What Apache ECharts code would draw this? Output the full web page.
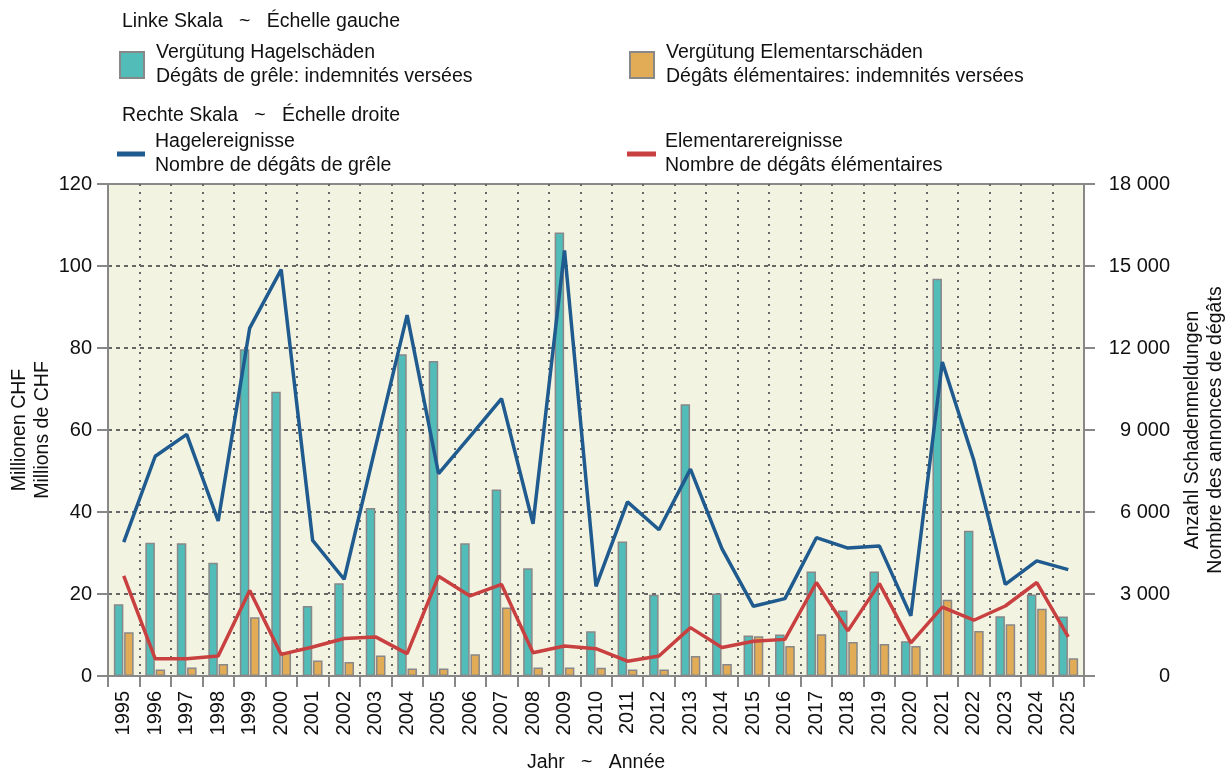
<!DOCTYPE html>
<html>
<head>
<meta charset="utf-8">
<script src="https://cdn.jsdelivr.net/npm/echarts@6/dist/echarts.min.js"></script>
<style>
  html, body { margin: 0; padding: 0; background: #fff; }
  #main { width: 1228px; height: 771px; }
</style>
</head>
<body>
<div id="main"></div>
<script>
// data
var years = ['1995', '1996', '1997', '1998', '1999', '2000', '2001', '2002', '2003', '2004',
    '2005', '2006', '2007', '2008', '2009', '2010', '2011', '2012', '2013', '2014',
    '2015', '2016', '2017', '2018', '2019', '2020', '2021', '2022', '2023', '2024', '2025'];

// Millionen CHF (left scale)
var hailPaid = [17.5, 32.5, 32.4, 27.6, 79.7, 69.3, 17.1, 22.6, 41.0, 78.5,
    76.8, 32.4, 45.5, 26.3, 108.2, 10.9, 32.8, 19.8, 66.3, 20.1,
    9.9, 10.1, 25.5, 16.0, 25.5, 8.5, 96.9, 35.4, 14.6, 19.9, 14.5];
var elemPaid = [10.7, 1.6, 2.1, 2.9, 14.3, 5.8, 3.8, 3.4, 5.0, 1.8,
    1.8, 5.3, 16.7, 2.1, 2.1, 2.0, 1.6, 1.6, 4.9, 2.9,
    9.7, 7.3, 10.2, 8.3, 7.8, 7.3, 18.6, 11.0, 12.6, 16.4, 4.3];

// Anzahl Schadenmeldungen (right scale)
var hailEvents = [4900, 8040, 8840, 5670, 12730, 14870, 4960, 3540, 8400, 13200,
    7400, 8770, 10150, 5570, 15570, 3280, 6370, 5350, 7570, 4660,
    2550, 2830, 5060, 4680, 4760, 2200, 11490, 7890, 3350, 4210, 3890];
var elemEvents = [3660, 630, 630, 730, 3130, 790, 1060, 1370, 1430, 820,
    3650, 2930, 3350, 850, 1100, 1000, 540, 730, 1770, 1040,
    1270, 1340, 3420, 1650, 3380, 1210, 2520, 2040, 2560, 3420, 1430];

var leftTicks = [0, 20, 40, 60, 80, 100, 120];
var rightTicks = [0, 3000, 6000, 9000, 12000, 15000, 18000];

var names = {
    hail: 'Vergütung Hagelschäden\nDégâts de grêle: indemnités versées',
    elem: 'Vergütung Elementarschäden\nDégâts élémentaires: indemnités versées',
    hailLine: 'Hagelereignisse\nNombre de dégâts de grêle',
    elemLine: 'Elementarereignisse\nNombre de dégâts élémentaires'
};

var FONT = '"Liberation Sans", Arial, sans-serif';
var TXT = '#111';
var AXIS = '#888';
var FS = 19.5;   // text size
var NS = 20;     // tick number size

var chartDom = document.getElementById('main');
var myChart = echarts.init(chartDom);
var option;

function thousands(v) {
    return String(v).replace(/\B(?=(\d{3})+(?!\d))/g, ' ');
}

// one legend per entry so each can sit where the reference puts it
function legendAt(name, left, top, w, h, gap, border) {
    return {
        left: left,
        top: top,
        padding: 0,
        orient: 'vertical',
        data: [name],
        icon: 'rect',
        itemWidth: w,
        itemHeight: h,
        itemStyle: border ? { borderColor: '#888', borderWidth: 2 } : { borderWidth: 0 },
        selectedMode: false,
        textStyle: {
            fontFamily: FONT,
            fontSize: FS,
            color: TXT,
            lineHeight: 24,
            padding: [0, 0, 0, gap]
        }
    };
}

option = {
    animation: false,
    textStyle: { fontFamily: FONT },
    graphic: [
        {
            type: 'text', left: 122, top: 12,
            style: { text: 'Linke Skala   ~   Échelle gauche', font: FS + 'px ' + FONT, fill: TXT }
        },
        {
            type: 'text', left: 122, top: 106,
            style: { text: 'Rechte Skala   ~   Échelle droite', font: FS + 'px ' + FONT, fill: TXT }
        }
    ],
    legend: [
        legendAt(names.hail, 119, 41, 24, 26, 7, true),
        legendAt(names.elem, 629, 41, 24, 26, 7, true),
        legendAt(names.hailLine, 117, 130, 28, 5, 5, false),
        legendAt(names.elemLine, 627, 130, 29, 5, 4, false)
    ],
    grid: {
        left: 108,
        right: 144,
        top: 184,
        bottom: 95,
        outerBoundsMode: 'none',
        containLabel: false,
        show: true,
        backgroundColor: '#f3f3e2',
        borderColor: AXIS,
        borderWidth: 2
    },
    xAxis: {
        type: 'category',
        data: years,
        boundaryGap: true,
        name: 'Jahr   ~   Année',
        nameLocation: 'middle',
        nameGap: 77,
        nameMoveOverlap: false,
        nameTextStyle: { fontSize: FS, color: TXT, fontFamily: FONT },
        axisLine: { lineStyle: { color: AXIS, width: 2 } },
        axisTick: { show: true, length: 11, inside: false,
            lineStyle: { color: AXIS, width: 2 } },
        axisLabel: { rotate: 90, fontSize: NS, color: TXT, margin: 15, interval: 0 },
        splitLine: { show: true, showMinLine: false, showMaxLine: false,
            lineStyle: { color: '#666', type: [2, 6], width: 2 } }
    },
    yAxis: [
        {
            type: 'value',
            min: 0,
            max: 120,
            interval: 20,
            position: 'left',
            name: 'Millionen CHF\nMillions de CHF',
            nameLocation: 'middle',
            nameRotate: 90,
            nameGap: 54,
            nameMoveOverlap: false,
            nameTextStyle: { fontSize: FS, color: TXT, fontFamily: FONT, lineHeight: 23 },
            axisLine: { show: true, lineStyle: { color: AXIS, width: 2 } },
            axisTick: { show: true, length: 11, lineStyle: { color: AXIS, width: 2 } },
            axisLabel: { fontSize: NS, color: TXT, margin: 16,
                customValues: leftTicks },
            splitLine: { show: true, showMinLine: false, showMaxLine: false,
                lineStyle: { color: '#666', type: [4, 4], width: 2 } }
        },
        {
            type: 'value',
            min: 0,
            max: 18000,
            interval: 3000,
            position: 'right',
            name: 'Anzahl Schadenmeldungen\nNombre des annonces de dégâts',
            nameLocation: 'middle',
            nameRotate: 90,
            nameGap: 97,
            nameMoveOverlap: false,
            nameTextStyle: { fontSize: FS, color: TXT, fontFamily: FONT, lineHeight: 23 },
            axisLine: { show: true, lineStyle: { color: AXIS, width: 2 } },
            axisTick: { show: true, length: 11, lineStyle: { color: AXIS, width: 2 } },
            axisLabel: { fontSize: NS, color: TXT, margin: 86, align: 'right',
                customValues: rightTicks,
                formatter: function (v) { return thousands(v); } },
            splitLine: { show: false }
        }
    ],
    series: [
        {
            name: names.hail,
            type: 'bar',
            yAxisIndex: 0,
            data: hailPaid,
            barWidth: 9.5,
            barGap: '8%',
            itemStyle: { color: '#52bcb9', borderColor: '#888', borderWidth: 1.5 }
        },
        {
            name: names.elem,
            type: 'bar',
            yAxisIndex: 0,
            data: elemPaid,
            barWidth: 9.5,
            itemStyle: { color: '#e2ac57', borderColor: '#888', borderWidth: 1.5 }
        },
        {
            name: names.hailLine,
            type: 'line',
            yAxisIndex: 1,
            data: hailEvents,
            symbol: 'none',
            lineStyle: { color: '#1f5b8e', width: 3.5 },
            itemStyle: { color: '#1f5b8e' }
        },
        {
            name: names.elemLine,
            type: 'line',
            yAxisIndex: 1,
            data: elemEvents,
            symbol: 'none',
            lineStyle: { color: '#c94040', width: 3.5 },
            itemStyle: { color: '#c94040' }
        }
    ]
};

option && myChart.setOption(option);

window.addEventListener('resize', function () {
    myChart.resize();
});
</script>
</body>
</html>
